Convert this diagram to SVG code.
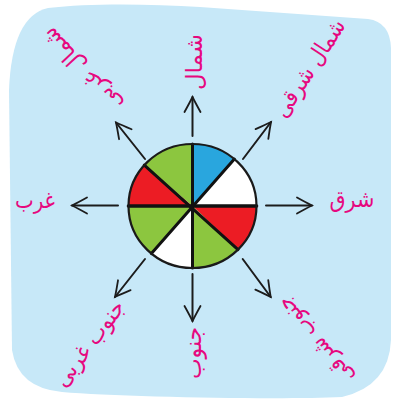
<svg xmlns="http://www.w3.org/2000/svg" width="393" height="400" viewBox="0 0 393 400">
<defs>
<style>
.lbl{font-family:"DejaVu Sans",sans-serif;font-size:23px;fill:#e6087f;text-anchor:middle;dominant-baseline:central}
.arr{fill:none;stroke:#1c1c1c;stroke-width:2;stroke-linecap:round;marker-end:url(#ah)}
.div{stroke:#111;stroke-width:3;stroke-linecap:round}
</style>
<marker id="ah" viewBox="-16 -10 18 20" refX="0" refY="0" markerWidth="18" markerHeight="20" markerUnits="userSpaceOnUse" orient="auto" overflow="visible">
<path d="M-15,-8 Q-6,-3 0,0 Q-6,3 -15,8" fill="none" stroke="#1c1c1c" stroke-width="1.8" stroke-linecap="round"/>
</marker>
</defs>
<rect width="393" height="400" fill="#ffffff"/>
<path id="bg" d="M48,8 C90,3 150,4 200,7 L368,19 Q390,22 391,48 L391,340 Q389,386 342,397 C280,400 120,397 62,392 Q18,388 12,350 L9,90 Q12,16 48,8 Z" fill="#c7e8f8"/>
<g id="connectors">
<path class="arr" d="M192.5,136 L192.5,97"/>
<path class="arr" d="M243,159 L271,122"/>
<path class="arr" d="M266,205.5 L312,205.5"/>
<path class="arr" d="M242.7,259 L270.7,297"/>
<path class="arr" d="M192.5,274 L192.5,321"/>
<path class="arr" d="M145,259 L115,297"/>
<path class="arr" d="M118,205.5 L72,205.5"/>
<path class="arr" d="M145,159 L116,122.5"/>
</g>
<g id="compass">
<path d="M192.5,206 L192.5,144 A64,62 0 0 1 234.4,159.1 Z" fill="#29a6de"/>
<path d="M192.5,206 L234.4,159.1 A64,62 0 0 1 256.5,206 Z" fill="#ffffff"/>
<path d="M192.5,206 L256.5,206 A64,62 0 0 1 238,249.6 Z" fill="#ec1c24"/>
<path d="M192.5,206 L238,249.6 A64,62 0 0 1 192.5,268 Z" fill="#8cc63f"/>
<path d="M192.5,206 L192.5,268 A64,62 0 0 1 151.4,253.6 Z" fill="#ffffff"/>
<path d="M192.5,206 L151.4,253.6 A64,62 0 0 1 128.5,206 Z" fill="#8cc63f"/>
<path d="M192.5,206 L128.5,206 A64,62 0 0 1 144.3,165.1 Z" fill="#ec1c24"/>
<path d="M192.5,206 L144.3,165.1 A64,62 0 0 1 192.5,144 Z" fill="#8cc63f"/>
<line class="div" x1="192.5" y1="144" x2="192.5" y2="268"/>
<line class="div" x1="128.5" y1="206" x2="256.5" y2="206" style="stroke-width:3.6"/>
<line class="div" x1="234.4" y1="159.1" x2="151.4" y2="253.6"/>
<line class="div" x1="144.3" y1="165.1" x2="238" y2="249.6"/>
<ellipse cx="192.5" cy="206" rx="64" ry="62" fill="none" stroke="#1a1a1a" stroke-width="2.2"/>
</g>
<g id="n"><text class="lbl" transform="translate(194,62) rotate(-90)" textLength="56" lengthAdjust="spacingAndGlyphs">شمال</text></g>
<g id="ne"><text class="lbl" transform="translate(309,68) rotate(-57)" textLength="112" lengthAdjust="spacingAndGlyphs">شمال شرقی</text></g>
<g id="e"><text class="lbl" transform="translate(352,199)" textLength="45" lengthAdjust="spacingAndGlyphs">شرق</text></g>
<g id="se"><text class="lbl" transform="translate(315,341) rotate(-130)" textLength="106" lengthAdjust="spacingAndGlyphs">جنوب شرقی</text></g>
<g id="s"><text class="lbl" transform="translate(193,353) rotate(-90)" textLength="52" lengthAdjust="spacingAndGlyphs">جنوب</text></g>
<g id="sw"><text class="lbl" transform="translate(89,343) rotate(-53)" textLength="102" lengthAdjust="spacingAndGlyphs">جنوب غربی</text></g>
<g id="w"><text class="lbl" transform="translate(35,200)" textLength="40" lengthAdjust="spacingAndGlyphs">غرب</text></g>
<g id="nw"><text class="lbl" transform="translate(82,70) rotate(-133)" textLength="106" lengthAdjust="spacingAndGlyphs">شمال غربی</text></g>
</svg>
